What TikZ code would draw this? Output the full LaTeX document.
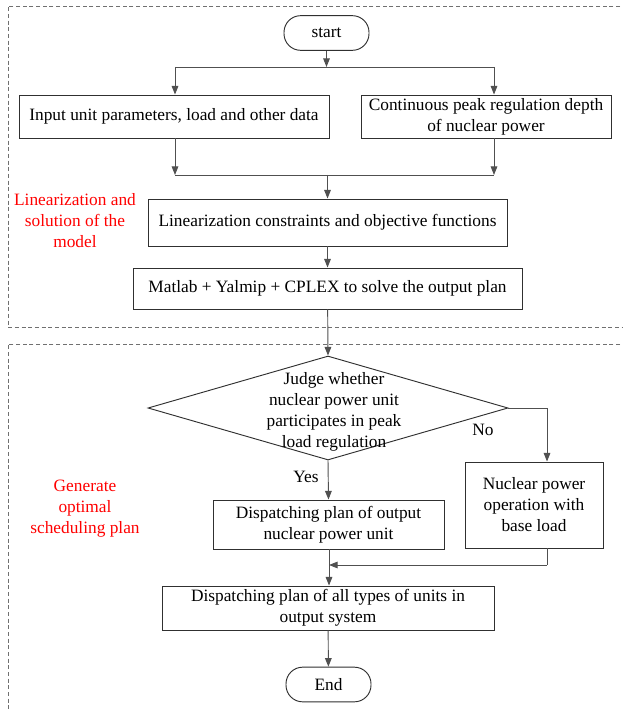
\documentclass[tikz,border=0pt]{standalone}
\usepackage{fontspec}
\setmainfont{Liberation Serif}
\usetikzlibrary{arrows.meta,shapes.geometric}
\definecolor{lin}{HTML}{505050}
\definecolor{brd}{HTML}{303030}
\definecolor{dsh}{HTML}{707070}
\begin{document}
\begin{tikzpicture}[x=0.75pt,y=-0.75pt,
  txt/.style={font=\fontsize{13}{15.75}\selectfont, align=center},
  box/.style={txt, draw=brd, line width=0.7pt, inner sep=0pt},
  term/.style={box, rounded corners=12.5pt, minimum width=63.75pt, minimum height=26pt},
  redlab/.style={txt, text=red},
  conn/.style={draw=lin, line width=0.7pt},
  arr/.style={conn, -{Triangle[length=6.5pt,width=5pt]}},
  frame/.style={draw=dsh, line width=0.6pt, dash pattern=on 3pt off 2pt}]
\useasboundingbox (0,0) rectangle (622,712);
\fill[white] (0,0) rectangle (622,712);
% dashed regions
\draw[frame] (640,6) -- (8,6) -- (8,327) -- (640,327);
\draw[frame] (640,344) -- (8,344) -- (8,730);
% nodes
\node[term] (start) at (326.5,33) {start};
\node[box, minimum width=232.5pt, minimum height=32.25pt] (input) at (174,116.5) {Input unit parameters, load and other data};
\node[box, minimum width=187.5pt, minimum height=32.25pt] (depth) at (486,116.5) {Continuous peak regulation depth\\of nuclear power};
\node[box, minimum width=269.25pt, minimum height=35.25pt] (lin) at (327.5,222.5) {Linearization constraints and objective functions};
\node[box, minimum width=291.75pt, minimum height=30.75pt] (mat) at (327.5,288.5) {Matlab + Yalmip + CPLEX to solve the output plan};
\node[diamond, draw=brd, line width=0.7pt, minimum width=270pt, minimum height=78pt, inner sep=0pt] (dia) at (328,408) {};
\node[txt] (diat) at (334,411.5) {Judge whether\\nuclear power unit\\participates in peak\\load regulation};
\node[box, minimum width=173.25pt, minimum height=36.75pt] (disp) at (328.5,524.5) {Dispatching plan of output\\nuclear power unit};
\node[box, minimum width=103.5pt, minimum height=64.5pt] (base) at (534,505) {Nuclear power\\operation with\\base load};
\node[box, minimum width=249pt, minimum height=33pt] (all) at (328,608) {Dispatching plan of all types of units in\\output system};
\node[term] (end) at (328.5,684.5) {End};
\node[redlab] (r1) at (75,221) {Linearization and\\solution of the\\model};
\node[redlab] (r2) at (85,509) {Generate\\optimal\\scheduling plan};
\node[txt] (yes) at (306,477) {Yes};
\node[txt] (no) at (483,430) {No};
% junction coordinates
\coordinate (s) at (326.5,67);
\coordinate (sl) at (175,67);
\coordinate (sr) at (494,67);
\coordinate (ml) at (175,175);
\coordinate (mr) at (494,175);
\coordinate (mc) at (327.5,175);
\coordinate (nr) at (547,408);
\coordinate (nb) at (547,548);
\coordinate (nm) at (547,565);
\coordinate (dm) at (329,565);
% connectors
\draw[arr] (start) -- (s);
\draw[conn] (sl) -- (sr);
\draw[arr] (sl) -- (sl |- input.north);
\draw[arr] (sr) -- (sr |- depth.north);
\draw[arr] (sl |- input.south) -- (ml);
\draw[arr] (sr |- depth.south) -- (mr);
\draw[conn] (ml) -- (mr);
\draw[arr] (mc) -- (lin);
\draw[arr] (lin) -- (mat);
\draw[arr] (mat) -- (dia.north);
\draw[conn] (dia.east) -- (nr);
\draw[arr] (nr) -- (nr |- base.north);
\draw[arr] (dia.south) -- (disp.north);
\draw[conn] (nb) -- (nm);
\draw[arr] (nm) -- (dm);
\draw[arr] (disp.south -| dm) -- (dm |- all.north);
\draw[arr] (all) -- (end);
\end{tikzpicture}
\end{document}
